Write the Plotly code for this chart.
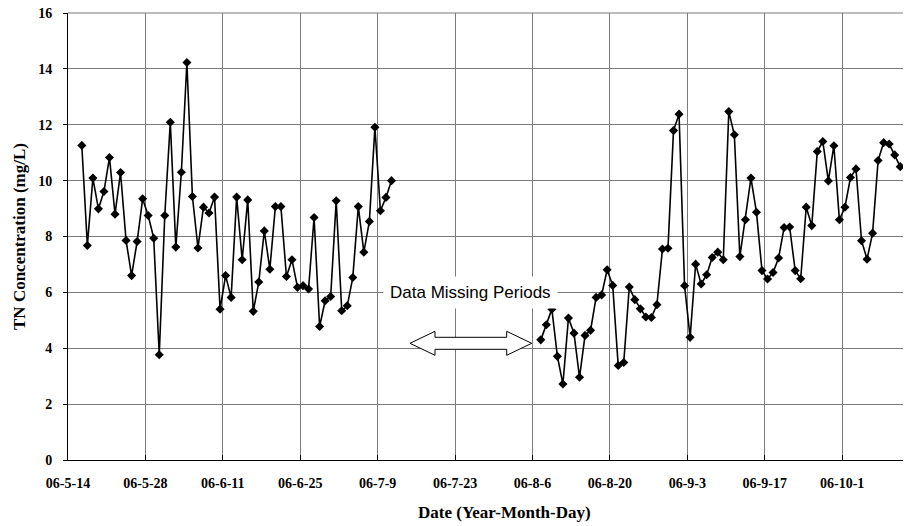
import pandas as pd
import plotly.graph_objects as go

# ---- data ----
seg1_start = "2006-05-16"
seg1_values = [11.26, 7.68, 10.09, 8.99, 9.61, 10.83, 8.80, 10.29, 7.86, 6.60,
               7.82, 9.35, 8.75, 7.94, 3.77, 8.75, 12.09, 7.62, 10.30, 14.23,
               9.43, 7.59, 9.05, 8.84, 9.41, 5.40, 6.60, 5.82, 9.41, 7.17,
               9.31, 5.32, 6.37, 8.20, 6.83, 9.07, 9.07, 6.57, 7.17, 6.18,
               6.24, 6.12, 8.68, 4.78, 5.70, 5.85, 9.28, 5.34, 5.52, 6.53,
               9.07, 7.44, 8.54, 11.91, 8.92, 9.40, 10.00]

seg2_start = "2006-08-07"
seg2_values = [4.30, 4.84, 5.40, 3.71, 2.72, 5.08, 4.54, 2.96, 4.46, 4.64,
               5.82, 5.91, 6.81, 6.25, 3.38, 3.49, 6.19, 5.74, 5.41, 5.12,
               5.10, 5.56, 7.55, 7.58, 11.79, 12.38, 6.24, 4.39, 7.01, 6.30,
               6.63, 7.25, 7.44, 7.17, 12.47, 11.64, 7.28, 8.60, 10.09, 8.87,
               6.78, 6.48, 6.71, 7.23, 8.32, 8.34, 6.78, 6.49, 9.05, 8.39,
               11.04, 11.40, 9.99, 11.25, 8.60, 9.05, 10.11, 10.42, 7.85, 7.19,
               8.12, 10.72, 11.36, 11.31, 10.92, 10.50]

tick_dates = ["2006-05-14", "2006-05-28", "2006-06-11", "2006-06-25", "2006-07-09",
              "2006-07-23", "2006-08-06", "2006-08-20", "2006-09-03", "2006-09-17",
              "2006-10-01"]
tick_labels = ["06-5-14", "06-5-28", "06-6-11", "06-6-25", "06-7-9", "06-7-23",
               "06-8-6", "06-8-20", "06-9-3", "06-9-17", "06-10-1"]
y_ticks = [0, 2, 4, 6, 8, 10, 12, 14, 16]

# daily samples plotted at the middle of each day bin (Excel date-axis style)
half_day = pd.Timedelta(hours=12)
x1 = pd.date_range(seg1_start, periods=len(seg1_values), freq="D") + half_day
x2 = pd.date_range(seg2_start, periods=len(seg2_values), freq="D") + half_day

W, H = 904, 526
ML, MR, MT, MB = 68, 1, 13, 66
PW, PH = W - ML - MR, H - MT - MB


def px(xp):
    return (xp - ML) / PW


def py(yp):
    return (H - MB - yp) / PH


fig = go.Figure()
line_style = dict(color="black", width=1.6)
marker_style = dict(symbol="diamond", size=7, color="black")
fig.add_trace(go.Scatter(x=x1, y=seg1_values, mode="lines+markers",
                         line=line_style, marker=marker_style, showlegend=False))
fig.add_trace(go.Scatter(x=x2, y=seg2_values, mode="lines+markers",
                         line=line_style, marker=marker_style, showlegend=False))

tick_font = dict(family="Liberation Serif", size=14, color="black", weight="bold")

fig.update_xaxes(
    range=["2006-05-14", "2006-10-12"],
    tickvals=tick_dates, ticktext=tick_labels,
    showgrid=True, gridcolor="#7a7a7a", gridwidth=1,
    showline=True, linecolor="black", linewidth=1,
    ticks="inside", ticklen=5, tickcolor="black",
    tickfont=tick_font, ticklabelstandoff=10,
    zeroline=False,
)
fig.update_yaxes(
    range=[0, 16], tickvals=y_ticks,
    showgrid=True, gridcolor="#7a7a7a", gridwidth=1,
    showline=True, linecolor="black", linewidth=1,
    ticks="outside", ticklen=4, tickcolor="black",
    tickfont=tick_font, ticklabelstandoff=8,
    zeroline=False,
    title=dict(text="TN Concentration (mg/L)",
               font=dict(family="Liberation Serif", size=17, color="black", weight="bold"),
               standoff=8),
)

# top border
fig.add_shape(type="line", xref="paper", yref="paper", x0=0, x1=1, y0=1, y1=1,
              line=dict(color="#7a7a7a", width=1))

# hollow double-headed arrow
tipL, baseL, baseR, tipR = 410, 435, 506.7, 531.7
yc, hh, sh = 343.3, 12, 6
pts = [(tipL, yc), (baseL, yc - hh), (baseL, yc - sh), (baseR, yc - sh), (baseR, yc - hh),
       (tipR, yc), (baseR, yc + hh), (baseR, yc + sh), (baseL, yc + sh), (baseL, yc + hh)]
path = "M " + " L ".join(f"{px(a):.5f},{py(b):.5f}" for a, b in pts) + " Z"
fig.add_shape(type="path", xref="paper", yref="paper", path=path,
              fillcolor="white", line=dict(color="black", width=1))

fig.add_annotation(xref="paper", yref="paper", x=px(470), y=py(292),
                   xanchor="center", yanchor="middle",
                   text="Data Missing Periods", showarrow=False,
                   font=dict(family="Liberation Sans", size=17, color="black"),
                   bgcolor="white", borderpad=6)

fig.add_annotation(xref="paper", yref="paper", x=px(505), y=py(512),
                   xanchor="center", yanchor="middle",
                   text="Date (Year-Month-Day)", showarrow=False,
                   font=dict(family="Liberation Serif", size=17, color="black", weight="bold"))

fig.update_layout(
    width=W, height=H,
    margin=dict(l=ML, r=MR, t=MT, b=MB),
    paper_bgcolor="white", plot_bgcolor="white",
)

fig.write_html("out.html")
